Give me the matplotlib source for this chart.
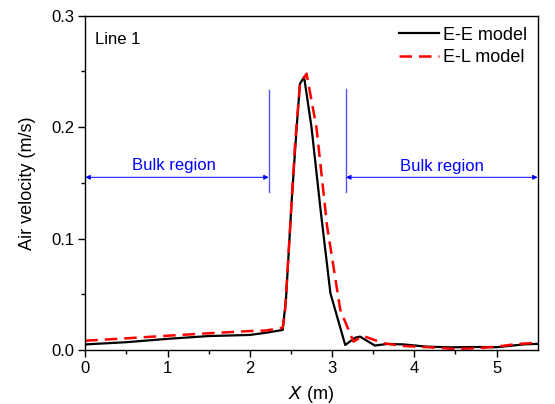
import matplotlib
matplotlib.use("Agg")
import matplotlib.pyplot as plt
import numpy as np

plt.rcParams['font.family'] = ['Liberation Sans', 'DejaVu Sans']
plt.rcParams['font.size'] = 12

# E-E model (solid black)
x_ee = [0.0, 0.5, 1.0, 1.5, 2.0, 2.2, 2.40, 2.44, 2.51, 2.57, 2.61, 2.66,
        2.75, 2.86, 2.98, 3.16, 3.28, 3.34, 3.52, 3.67, 3.87, 4.15, 4.44,
        4.76, 5.0, 5.33, 5.5]
v_ee = [0.005, 0.007, 0.010, 0.0125, 0.0135, 0.0155, 0.018, 0.046, 0.135,
        0.200, 0.239, 0.245, 0.200, 0.126, 0.051, 0.0045, 0.011, 0.012,
        0.004, 0.0054, 0.005, 0.003, 0.0024, 0.0027, 0.0025, 0.005, 0.0055]

# E-L model (dashed red)
x_el = [0.0, 0.5, 1.0, 1.5, 2.0, 2.2, 2.40, 2.43, 2.49, 2.55, 2.61, 2.69,
        2.81, 2.94, 3.10, 3.26, 3.38, 3.63, 3.87, 4.19, 4.48, 4.76, 5.0,
        5.25, 5.5]
v_el = [0.0083, 0.0105, 0.0128, 0.015, 0.017, 0.0175, 0.020, 0.036, 0.11,
        0.185, 0.239, 0.248, 0.200, 0.111, 0.036, 0.0075, 0.0125, 0.006,
        0.0036, 0.0024, 0.001, 0.0015, 0.003, 0.0054, 0.0065]

# region markers
bound_left = 2.23
bound_right = 3.17
arrow_y = 0.155

fig = plt.figure(figsize=(5.55, 4.04), dpi=100)
ax = fig.add_axes([0.1537, 0.1337, 0.9688 - 0.1537, 0.961 - 0.1337])

ax.plot(x_ee, v_ee, color='black', lw=1.6, label='E-E model')
ax.plot(x_el, v_el, color='red', lw=1.8, ls=(0, (5, 2.8)), label='E-L model')

# blue bulk-region annotations
ax.plot([bound_left, bound_left], [0.142, 0.233], color='#5555ff', lw=1)
ax.plot([bound_right, bound_right], [0.142, 0.234], color='#5555ff', lw=1)
arrow_kw = dict(arrowstyle='<|-|>', color='blue', lw=0.7, mutation_scale=7,
                shrinkA=0, shrinkB=0)
ax.annotate('', xy=(0, arrow_y), xytext=(bound_left, arrow_y), arrowprops=arrow_kw)
ax.annotate('', xy=(bound_right, arrow_y), xytext=(5.5, arrow_y), arrowprops=arrow_kw)
ax.text(1.08, 0.166, 'Bulk region', color='blue', ha='center', va='center', fontsize=12)
ax.text(4.34, 0.165, 'Bulk region', color='blue', ha='center', va='center', fontsize=12)

ax.text(0.021, 0.952, 'Line 1', transform=ax.transAxes, ha='left', va='top', fontsize=12)

ax.set_xlim(0, 5.5)
ax.set_ylim(0, 0.3)
ax.set_xticks([0, 1, 2, 3, 4, 5])
ax.set_xticks(np.arange(0.5, 5.5, 1.0), minor=True)
ax.set_yticks([0.0, 0.1, 0.2, 0.3])
ax.set_yticks([0.05, 0.15, 0.25], minor=True)
ax.set_yticklabels(['0.0', '0.1', '0.2', '0.3'])
ax.tick_params(which='major', direction='out', length=5, width=1, labelsize=12, pad=3)
ax.tick_params(which='minor', direction='out', length=3, width=1)
for s in ax.spines.values():
    s.set_linewidth(1)

ax.set_xlabel('$\\mathit{X}$ (m)', fontsize=13, labelpad=6)
ax.set_ylabel('Air velocity (m/s)', fontsize=13, labelpad=11)

ax.legend(loc='upper right', frameon=False, fontsize=13, handlelength=2.2,
          handletextpad=0.2, labelspacing=0.3, borderaxespad=0.3,
          borderpad=0.3)

fig.savefig('out.png', dpi=100)
